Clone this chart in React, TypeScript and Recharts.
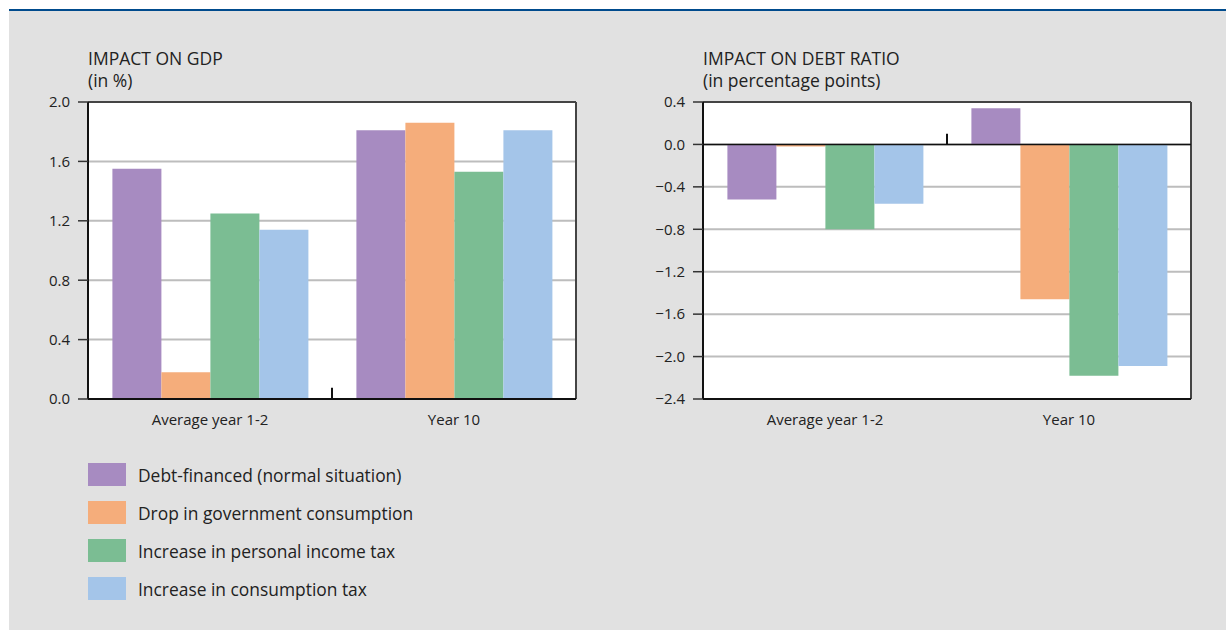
import React from "react";
import {
  Bar,
  BarChart,
  CartesianGrid,
  ReferenceLine,
  XAxis,
  YAxis,
} from "recharts";

const categories = ["Average year 1-2", "Year 10"];

const seriesNames = [
  "Debt-financed (normal situation)",
  "Drop in government consumption",
  "Increase in personal income tax",
  "Increase in consumption tax",
];
const seriesColors = ["#a78bc1", "#f5ad7b", "#7bbd93", "#a4c5e9"];

// impact on GDP, in %
const gdpDebtFinanced = [1.55, 1.81];
const gdpGovCons = [0.18, 1.86];
const gdpIncomeTax = [1.25, 1.53];
const gdpConsTax = [1.14, 1.81];
const gdpTicks = [0, 0.4, 0.8, 1.2, 1.6, 2.0];

// impact on debt ratio, in percentage points
const debtDebtFinanced = [-0.52, 0.34];
const debtGovCons = [-0.02, -1.46];
const debtIncomeTax = [-0.8, -2.18];
const debtConsTax = [-0.56, -2.09];
const debtTicks = [-2.4, -2.0, -1.6, -1.2, -0.8, -0.4, 0, 0.4];

const keys = ["s0", "s1", "s2", "s3"];

const buildRows = (series: number[][]) =>
  categories.map((name, i) => {
    const row: Record<string, string | number> = { name };
    series.forEach((vals, j) => (row[keys[j]] = vals[i]));
    return row;
  });

const gdpData = buildRows([gdpDebtFinanced, gdpGovCons, gdpIncomeTax, gdpConsTax]);
const debtData = buildRows([debtDebtFinanced, debtGovCons, debtIncomeTax, debtConsTax]);

const FONT = "'Open Sans', sans-serif";
const TEXT = "#222";

const fmt = (v: number) => v.toFixed(1).replace("-", "\u2212");

type PanelProps = {
  data: Record<string, string | number>[];
  ticks: number[];
  left: number;
  dividerTo: number;
};

const Panel = ({ data, ticks, left, dividerTo }: PanelProps) => {
  const lo = ticks[0];
  const hi = ticks[ticks.length - 1];
  const first = categories[0];
  const last = categories[categories.length - 1];
  return (
    <div style={{ position: "absolute", left, top: 0 }}>
      <BarChart
        width={600}
        height={440}
        data={data}
        margin={{ top: 102, right: 24, bottom: 11, left: 0 }}
        barCategoryGap="10%"
        barGap={0}
      >
        <CartesianGrid
          vertical={false}
          stroke="#bdbdbd"
          strokeWidth={2}
          fill="#ffffff"
        />
        <XAxis
          dataKey="name"
          axisLine={false}
          tickLine={false}
          tickSize={0}
          tickMargin={15}
          height={30}
          tick={{ fill: TEXT, fontSize: 15, fontFamily: FONT }}
        />
        <YAxis
          domain={[lo, hi]}
          ticks={ticks}
          interval={0}
          width={88}
          tickFormatter={fmt}
          tickSize={10}
          tickMargin={8}
          axisLine={{ stroke: "#111", strokeWidth: 2 }}
          tickLine={{ stroke: "#333", strokeWidth: 1.5 }}
          tick={{ fill: TEXT, fontSize: 15, fontFamily: FONT }}
        />
        {keys.map((k, j) => (
          <Bar
            key={k}
            dataKey={k}
            name={seriesNames[j]}
            fill={seriesColors[j]}
            isAnimationActive={false}
          />
        ))}
        <ReferenceLine y={hi} stroke="#444" strokeWidth={2} />
        <ReferenceLine x={last} position="end" stroke="#444" strokeWidth={2} />
        <ReferenceLine y={lo} stroke="#111" strokeWidth={2} />
        <ReferenceLine y={0} stroke="#111" strokeWidth={1.5} />
        <ReferenceLine
          segment={[
            { x: first, y: 0 },
            { x: first, y: dividerTo },
          ]}
          position="end"
          stroke="#111"
          strokeWidth={2}
        />
      </BarChart>
    </div>
  );
};

const Title = ({ left, lines }: { left: number; lines: string[] }) => (
  <div
    style={{
      position: "absolute",
      left,
      top: 47,
      fontFamily: FONT,
      fontSize: 17.5,
      lineHeight: "22px",
      color: TEXT,
    }}
  >
    {lines.map((l) => (
      <div key={l}>{l}</div>
    ))}
  </div>
);

export default function App() {
  return (
    <div
      style={{
        position: "absolute",
        left: 0,
        top: 0,
        width: 1226,
        height: 630,
        background: "#ffffff",
        overflow: "hidden",
      }}
    >
      <div
        style={{
          position: "absolute",
          left: 9,
          top: 9,
          right: 0,
          bottom: 0,
          background: "#e1e1e1",
          borderTop: "2px solid #004b8d",
        }}
      />
      <Title left={88} lines={["IMPACT ON GDP", "(in %)"]} />
      <Title left={703} lines={["IMPACT ON DEBT RATIO", "(in percentage points)"]} />
      <Panel data={gdpData} ticks={gdpTicks} left={0} dividerTo={0.075} />
      <Panel data={debtData} ticks={debtTicks} left={615} dividerTo={0.1} />
      <div style={{ position: "absolute", left: 88, top: 463 }}>
        {seriesNames.map((n, j) => (
          <div
            key={n}
            style={{ display: "flex", alignItems: "center", height: 23, marginBottom: 15 }}
          >
            <div style={{ width: 38, height: 23, background: seriesColors[j] }} />
            <span
              style={{
                marginLeft: 12,
                fontFamily: FONT,
                fontSize: 17.4,
                color: TEXT,
                whiteSpace: "nowrap",
              }}
            >
              {n}
            </span>
          </div>
        ))}
      </div>
    </div>
  );
}
